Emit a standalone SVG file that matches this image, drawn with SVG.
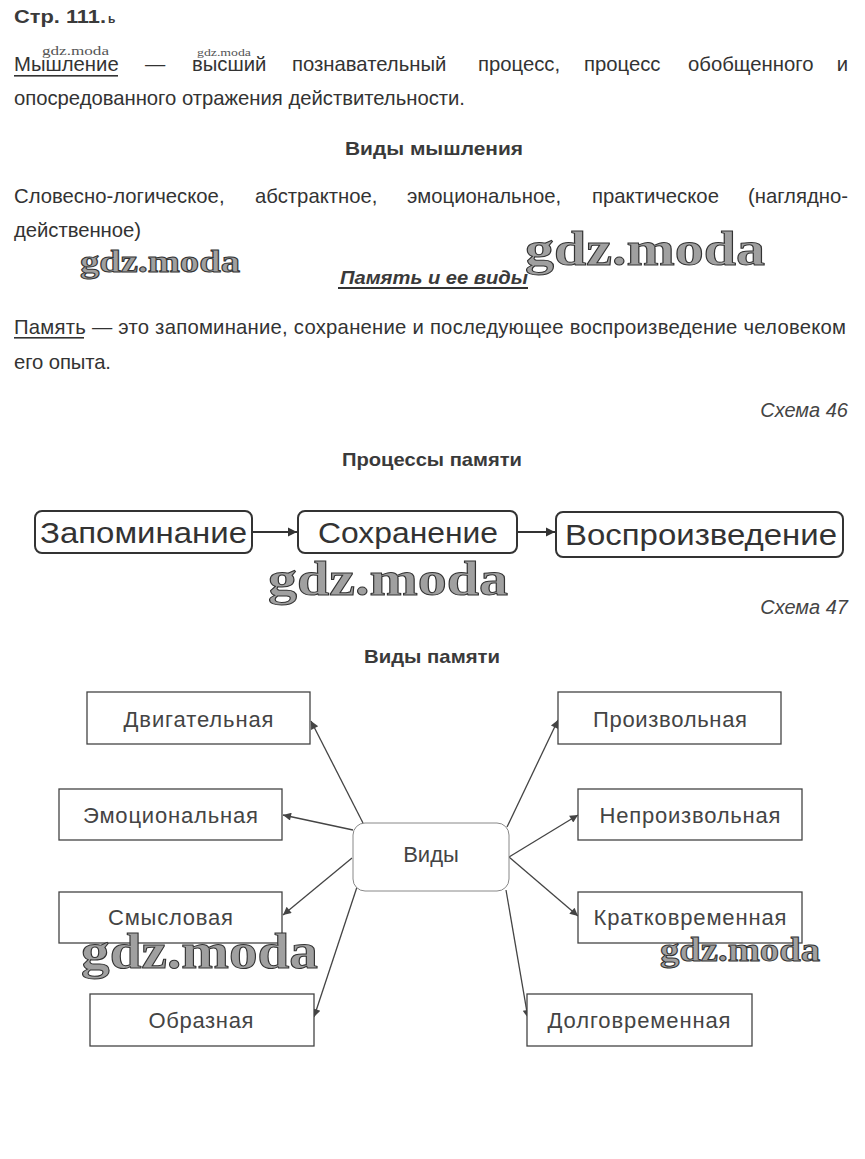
<svg xmlns="http://www.w3.org/2000/svg" width="865" height="1159" viewBox="0 0 865 1159">
<defs>
<style>
.t{font-family:"Liberation Sans",Arial,sans-serif;font-size:20.3px;fill:#333}
.h{font-family:"Liberation Sans",Arial,sans-serif;font-size:19px;font-weight:bold;fill:#3a3a3a;text-anchor:middle}
.it{font-family:"Liberation Sans",Arial,sans-serif;font-size:20px;font-style:italic;fill:#444;text-anchor:end}
.pb{fill:#fff;stroke:#333;stroke-width:2}
.pt{font-family:"Liberation Sans",Arial,sans-serif;font-size:29px;fill:#333;text-anchor:middle}
.nb{fill:#fff;stroke:#444;stroke-width:1.3}
.nt{font-family:"Liberation Sans",Arial,sans-serif;font-size:22px;fill:#444;text-anchor:middle}
.wm{font-family:"Liberation Serif","Times New Roman",serif;font-weight:bold;fill:#a0a0a0;stroke:#333;stroke-width:1}
.wms{font-family:"Liberation Serif","Times New Roman",serif;fill:#555}
.ln{stroke:#444;stroke-width:1.3;fill:none}
.pl{stroke:#333;stroke-width:2;fill:none}
</style>
<marker id="ah" viewBox="0 0 10 10" refX="10" refY="5" markerWidth="11" markerHeight="8" markerUnits="userSpaceOnUse" orient="auto"><path d="M0,0 L10,5 L0,10 z" fill="#444"/></marker>
<marker id="ap" viewBox="0 0 10 10" refX="10" refY="5" markerWidth="9" markerHeight="10" markerUnits="userSpaceOnUse" orient="auto"><path d="M0,0 L10,5 L0,10 z" fill="#333"/></marker>
</defs>
<rect width="865" height="1159" fill="#fff"/>

<g id="text-top">
<text x="14" y="23" font-family="Liberation Sans, Arial, sans-serif" font-size="18" font-weight="bold" fill="#3a3a3a"><tspan textLength="92" lengthAdjust="spacingAndGlyphs">Стр. 111.</tspan> <tspan font-size="12" x="108">ь</tspan></text>
<text class="t" y="71"><tspan x="14">Мышление</tspan><tspan x="145">—</tspan><tspan x="192">высший</tspan><tspan x="292">познавательный</tspan><tspan x="478">процесс,</tspan><tspan x="584">процесс</tspan><tspan x="688">обобщенного</tspan></text>
<text class="t" x="848" y="71" text-anchor="end">и</text>
<rect x="14" y="75" width="104" height="1.6" fill="#333"/>
<text class="t" x="14" y="105" textLength="451" lengthAdjust="spacing">опосредованного отражения действительности.</text>
<text class="h" x="434" y="155" textLength="178" lengthAdjust="spacingAndGlyphs">Виды мышления</text>
<text class="t" y="203"><tspan x="14">Словесно-логическое,</tspan><tspan x="255">абстрактное,</tspan><tspan x="407">эмоциональное,</tspan><tspan x="592">практическое</tspan></text>
<text class="t" x="848" y="203" text-anchor="end">(наглядно-</text>
<text class="t" x="14" y="237" textLength="127" lengthAdjust="spacing">действенное)</text>
<text class="h" x="434" y="284" font-style="italic" textLength="188" lengthAdjust="spacingAndGlyphs">Память и ее виды</text>
<rect x="338" y="287" width="190" height="2" fill="#333"/>
<text class="t" x="14" y="334" textLength="832" lengthAdjust="spacing">Память — это запоминание, сохранение и последующее воспроизведение человеком</text>
<rect x="14" y="337" width="70" height="1.6" fill="#333"/>
<text class="t" x="14" y="369" textLength="97" lengthAdjust="spacing">его опыта.</text>
<text class="it" x="848" y="417">Схема 46</text>
<text class="h" x="432" y="466" textLength="180" lengthAdjust="spacingAndGlyphs">Процессы памяти</text>
<text class="it" x="848" y="614">Схема 47</text>
<text class="h" x="432" y="663" textLength="136" lengthAdjust="spacingAndGlyphs">Виды памяти</text>
</g>

<g id="connectors">
<path class="pl" d="M252,532 L297,532" marker-end="url(#ap)"/>
<path class="pl" d="M517,532 L555,532" marker-end="url(#ap)"/>
<path class="ln" d="M363,823 L311,721" marker-end="url(#ah)"/>
<path class="ln" d="M353,830 L283,815" marker-end="url(#ah)"/>
<path class="ln" d="M352,858 L283,915" marker-end="url(#ah)"/>
<path class="ln" d="M357,887 L314,1017" marker-end="url(#ah)"/>
<path class="ln" d="M507,827 L558,720" marker-end="url(#ah)"/>
<path class="ln" d="M509,857 L578,815" marker-end="url(#ah)"/>
<path class="ln" d="M509,857 L578,916" marker-end="url(#ah)"/>
<path class="ln" d="M506,890 L528,1018" marker-end="url(#ah)"/>
</g>

<g id="p-zapominanie"><rect class="pb" x="35" y="511" width="217" height="42" rx="7"/><text class="pt" x="143.5" y="543" textLength="207" lengthAdjust="spacingAndGlyphs">Запоминание</text></g>
<g id="p-sohranenie"><rect class="pb" x="298" y="511" width="219" height="42" rx="7"/><text class="pt" x="408" y="543" textLength="180" lengthAdjust="spacingAndGlyphs">Сохранение</text></g>
<g id="p-vosproizvedenie"><rect class="pb" x="556" y="512" width="287" height="45" rx="7"/><text class="pt" x="701" y="545" textLength="272" lengthAdjust="spacingAndGlyphs">Воспроизведение</text></g>

<g id="n-vidy"><rect x="353" y="823" width="156" height="68" rx="12" fill="#fff" stroke="#888" stroke-width="1"/><text class="nt" x="431" y="862">Виды</text></g>
<g id="n-dvig"><rect class="nb" x="87" y="692" width="223" height="52"/><text class="nt" x="198.5" y="727" textLength="150" lengthAdjust="spacing">Двигательная</text></g>
<g id="n-emoc"><rect class="nb" x="59" y="789" width="223" height="51"/><text class="nt" x="170.5" y="823" textLength="175" lengthAdjust="spacing">Эмоциональная</text></g>
<g id="n-smysl"><rect class="nb" x="59" y="892" width="223" height="51"/><text class="nt" x="170.5" y="925" textLength="125" lengthAdjust="spacing">Смысловая</text></g>
<g id="n-obraz"><rect class="nb" x="90" y="994" width="224" height="52"/><text class="nt" x="201" y="1028" textLength="105" lengthAdjust="spacing">Образная</text></g>
<g id="n-proizv"><rect class="nb" x="558" y="692" width="223" height="52"/><text class="nt" x="670" y="727" textLength="154" lengthAdjust="spacing">Произвольная</text></g>
<g id="n-neproizv"><rect class="nb" x="578" y="789" width="224" height="51"/><text class="nt" x="690" y="823" textLength="181" lengthAdjust="spacing">Непроизвольная</text></g>
<g id="n-kratko"><rect class="nb" x="578" y="892" width="224" height="51"/><text class="nt" x="690" y="925" textLength="193" lengthAdjust="spacing">Кратковременная</text></g>
<g id="n-dolgo"><rect class="nb" x="527" y="994" width="225" height="52"/><text class="nt" x="639" y="1028" textLength="183" lengthAdjust="spacing">Долговременная</text></g>

<g id="watermarks">
<text class="wms" x="42" y="55" font-size="13" textLength="67" lengthAdjust="spacingAndGlyphs">gdz.moda</text>
<text class="wms" x="197" y="56" font-size="11" textLength="54" lengthAdjust="spacingAndGlyphs">gdz.moda</text>
<text class="wm" x="80" y="272" font-size="32" textLength="160" lengthAdjust="spacingAndGlyphs">gdz.moda</text>
<text class="wm" x="525" y="265" font-size="48" textLength="240" lengthAdjust="spacingAndGlyphs">gdz.moda</text>
<text class="wm" x="268" y="595" font-size="48" textLength="240" lengthAdjust="spacingAndGlyphs">gdz.moda</text>
<text class="wm" x="81" y="968" font-size="50" textLength="237" lengthAdjust="spacingAndGlyphs">gdz.moda</text>
<text class="wm" x="660" y="961" font-size="34" textLength="160" lengthAdjust="spacingAndGlyphs">gdz.moda</text>
</g>
</svg>
